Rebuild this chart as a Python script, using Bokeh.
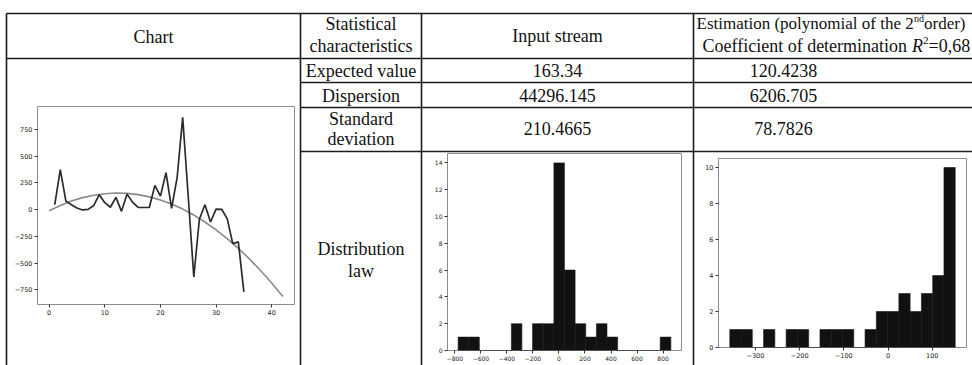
from bokeh.plotting import figure
from bokeh.models import Range1d, LinearAxis, FixedTicker, ColumnDataSource, GridBox
from bokeh.core.properties import value
from bokeh.embed import file_html
from bokeh.resources import INLINE

# ---------------- data ----------------
series_x = list(range(1, 36))
series_y = [47, 373, 80, 45, 15, -3, 2, 38, 140, 65, 22, 115, -16, 145, 68, 20, 20, 20,
            227, 126, 345, 12, 300, 862, 118, -629, -90, 45, -116, 5, 3, -84, -318, -302, -769]
trend_x = [0, 2, 4, 6, 8, 10, 12, 14, 16, 18, 20, 22, 24, 26, 28, 30, 32, 34, 36, 38, 40, 42]
trend_y = [-10, 39, 80, 112, 135, 149, 155, 152, 140, 119, 90, 52, 5, -51, -116, -189,
           -271, -362, -461, -569, -686, -812]
chart_x_ticks = [0, 10, 20, 30, 40]
chart_x_labels = ["0", "10", "20", "30", "40"]
chart_y_ticks = [-750, -500, -250, 0, 250, 500, 750]
chart_y_labels = ["\u2212750", "\u2212500", "\u2212250", "0", "250", "500", "750"]

hist1_edges = [-775, -693, -612, -530, -448, -366, -285, -203, -121, -39, 42, 124, 206,
               288, 369, 451, 533, 615, 696, 778, 860]
hist1_counts = [1, 1, 0, 0, 0, 2, 0, 2, 2, 14, 6, 2, 1, 2, 1, 0, 0, 0, 0, 1]
hist1_x_ticks = [-800, -600, -400, -200, 0, 200, 400, 600, 800]
hist1_x_labels = ["\u2212800", "\u2212600", "\u2212400", "\u2212200", "0", "200", "400", "600", "800"]
hist1_y_ticks = [0, 2, 4, 6, 8, 10, 12, 14]

hist2_edges = [-358, -332.5, -307, -281.5, -256, -230.5, -205, -179.5, -154, -128.5, -103,
               -77.5, -52, -26.5, -1, 24.5, 50, 75.5, 101, 126.5, 152]
hist2_counts = [1, 1, 0, 1, 0, 1, 1, 0, 1, 1, 1, 0, 1, 2, 2, 3, 2, 3, 4, 10]
hist2_x_ticks = [-300, -200, -100, 0, 100]
hist2_x_labels = ["\u2212300", "\u2212200", "\u2212100", "0", "100"]
hist2_y_ticks = [0, 2, 4, 6, 8, 10]

header_chart = "Chart"
header_stat = ["Statistical", "characteristics"]
header_input = "Input stream"
row_labels = ["Expected value", "Dispersion", "Standard", "deviation", "Distribution", "law"]
input_stats = ["163.34", "44296.145", "210.4665"]
estim_stats = ["120.4238", "6206.705", "78.7826"]

# ---------------- layout (page pixel coordinates) ----------------
LINE_C = "#1c1c1c"
TXT_C = "#111111"
SERIF = "Liberation Serif"
SANS = "DejaVu Sans"

table = figure(frame_width=972, frame_height=365, x_range=Range1d(0, 972),
               y_range=Range1d(365, 0), x_axis_type=None, y_axis_type=None,
               toolbar_location=None, output_backend="svg",
               min_border_left=0, min_border_right=0, min_border_top=0, min_border_bottom=0,
               outline_line_color=None, background_fill_color="white",
               border_fill_color="white")
table.grid.visible = False

hx0 = [6, 6, 300, 300, 300]
hx1 = [972, 972, 972, 972, 972]
hy = [13, 58, 82, 107, 151]
table.segment(x0=hx0, y0=hy, x1=hx1, y1=hy, line_color=LINE_C, line_width=1.6)
vx = [6, 300, 421, 693]
table.segment(x0=vx, y0=[13] * 4, x1=vx, y1=[366] * 4, line_color=LINE_C, line_width=1.6)


def center_text(xs, ys, texts, size="18px"):
    src = ColumnDataSource(dict(x=xs, y=ys, t=texts))
    table.text(x="x", y="y", text="t", source=src, text_font=value(SERIF),
               text_font_size=value(size), text_align="center", text_baseline="middle",
               text_color=TXT_C)


def left_text(x, y, t, size="18px", style="normal"):
    table.text(x=[x], y=[y], text=[t], text_font=value(SERIF), text_font_size=value(size),
               text_font_style=style, text_align="left", text_baseline="middle",
               text_color=TXT_C)

center_text([153], [36], [header_chart])
center_text([360.5, 360.5], [23, 45], header_stat)
center_text([557], [35], [header_input])
center_text([360.5] * 6, [70, 95, 118, 138, 248, 270], row_labels)
center_text([557] * 3, [70, 95, 128], input_stats)
center_text([783] * 3, [70, 95, 128], estim_stats)

left_text(696, 23, "Estimation (polynomial of the 2", size="17px")
left_text(913.5, 18, "nd", size="10px")
left_text(923.5, 23, " order)", size="17px")
left_text(702, 45, "Coefficient of determination ")
left_text(911.5, 45, "R", style="italic")
left_text(922.5, 40, "2", size="11px")
left_text(928, 45, "=0,68")


def style_axis(ax, ticks, labels, size):
    ax.ticker = FixedTicker(ticks=ticks)
    ax.major_label_overrides = {t: l for t, l in zip(ticks, labels)}
    ax.axis_line_color = None
    ax.major_tick_line_color = "#333333"
    ax.major_tick_in = 0
    ax.major_tick_out = 3
    ax.minor_tick_line_color = None
    ax.major_label_text_font = SANS
    ax.major_label_text_font_size = size
    ax.major_label_text_color = "#222222"
    ax.major_label_standoff = 2


def make_fig(fw, fh, xr, yr, mb_l, mb_r, mb_t, mb_b):
    f = figure(frame_width=fw, frame_height=fh, x_range=xr, y_range=yr,
               x_axis_type=None, y_axis_type=None, toolbar_location=None,
               output_backend="svg", min_border_left=mb_l, min_border_right=mb_r,
               min_border_top=mb_t, min_border_bottom=mb_b,
               outline_line_color="#8c8c8c", outline_line_width=1,
               background_fill_color="white", border_fill_color=None)
    f.grid.visible = False
    return f

# left chart: frame at x 37..294, y 106..304
chart = make_fig(257, 198, Range1d(-2.1, 44.1), Range1d(-887, 964), 27, 4, 6, 20)
ax = LinearAxis(); style_axis(ax, chart_x_ticks, chart_x_labels, "6.5px"); chart.add_layout(ax, "below")
ay = LinearAxis(); style_axis(ay, chart_y_ticks, chart_y_labels, "6.5px"); chart.add_layout(ay, "left")
chart.line(trend_x, trend_y, line_color="#8a8a8a", line_width=1.6)
chart.line(series_x, series_y, line_color="#2b2b2b", line_width=1.7)


def make_hist(edges, counts, fw, fh, mb_l, mb_r, mb_t, mb_b, xt, xl, yt, size):
    span = edges[-1] - edges[0]
    xr = Range1d(edges[0] - 0.05 * span, edges[-1] + 0.05 * span)
    yr = Range1d(0, max(counts) * 1.05)
    h = make_fig(fw, fh, xr, yr, mb_l, mb_r, mb_t, mb_b)
    a1 = LinearAxis(); style_axis(a1, xt, xl, size); h.add_layout(a1, "below")
    a2 = LinearAxis(); style_axis(a2, yt, [str(v) for v in yt], size); h.add_layout(a2, "left")
    src = ColumnDataSource(dict(l=edges[:-1], r=edges[1:], t=counts))
    h.quad(left="l", right="r", top="t", bottom=0, source=src,
           fill_color="#111111", line_color="#1a1a1a", line_width=0.6)
    return h

# hist1 frame at x 447..681, y 153..350 ; hist2 frame at x 718..966, y 158..347
hist1 = make_hist(hist1_edges, hist1_counts, 234, 197, 18, 3, 3, 15,
                  hist1_x_ticks, hist1_x_labels, hist1_y_ticks, "6px")
hist2 = make_hist(hist2_edges, hist2_counts, 248, 189, 18, 3, 3, 18,
                  hist2_x_ticks, hist2_x_labels, hist2_y_ticks, "6.5px")

# grid tracks: cols 0|10|429|700|972, rows 0|100|150|155|365
root = GridBox(children=[(table, 0, 0, 4, 4),
                         (chart, 1, 1, 3, 1),
                         (hist1, 2, 2, 2, 1),
                         (hist2, 3, 3, 1, 1)],
               cols=["10px", "419px", "271px", "272px"],
               rows=["100px", "50px", "5px", "210px"], spacing=0,
               width=972, height=365)

open("out.html", "w").write(file_html(root, INLINE))
